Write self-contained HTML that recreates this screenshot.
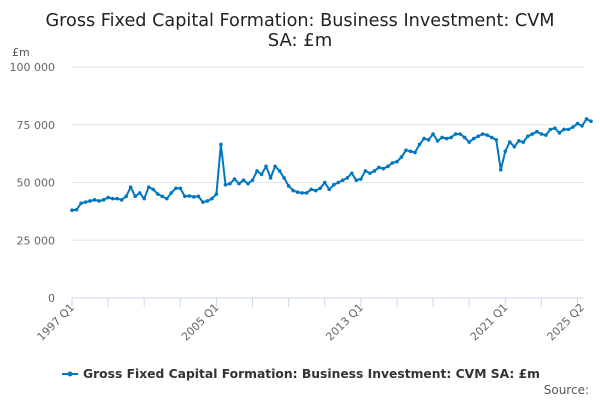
<!DOCTYPE html>
<html><head><meta charset="utf-8"><style>
body{margin:0;background:#fff;font-family:"DejaVu Sans","Liberation Sans",sans-serif;}
#wrap{position:relative;width:600px;height:400px;overflow:hidden;}
</style></head><body>
<div id="wrap">
<svg id="svg" width="600" height="400" style="font-family:'DejaVu Sans','Liberation Sans',sans-serif"></svg>
</div>
<script>
const categories=[];
for(let y=1997;y<=2025;y++)for(let q=1;q<=4;q++){if(y===2025&&q>2)break;categories.push(y+' Q'+q);}
const values=[38,38.2,41,41.5, 42,42.5,42,42.5, 43.5,43,43,42.5, 44,48,44,45.5, 43,48,47,45,
44,43,45.5,47.5, 47.5,44,44.2,43.8, 44,41.5,42,43, 45,66.5,49,49.5, 51.5,49.5,51,49.5,
51,55,53.5,57, 52,57,55,52, 48.5,46.5,45.8,45.5, 45.5,47,46.5,47.5, 50,47,49,50,
51,52,54,51, 51.5,55,54,55, 56.5,56,57,58.5, 59,61,64,63.5, 63,66.5,69,68.5,
71,68,69.5,69, 69.5,71,71,69.5, 67.5,69,70,71, 70.5,69.5,68.5,55.5, 63.5,67.5,65.5,68,
67.5,70,71,72, 71,70.5,73,73.5, 71.5,73,73,74, 75.5,74.5,77.5,76.5].map(v=>v*1000);
const yTicks=[0,25000,50000,75000,100000];
const yTickLabels=['0','25 000','50 000','75 000','100 000'];
const xTickLabels=['1997 Q1','2005 Q1','2013 Q1','2021 Q1','2025 Q2'];

const NS='http://www.w3.org/2000/svg';
const svg=document.getElementById('svg');
const X0=72,X1=582,Y0=298,Y1=67;
const xs=i=>X0+(X1-X0)*i/(categories.length-1);
const ys=v=>Y0-(Y0-Y1)*v/100000;
function mk(t,a,txt){const e=document.createElementNS(NS,t);for(const k in a)e.setAttribute(k,a[k]);if(txt!==undefined)e.textContent=txt;svg.appendChild(e);return e;}

let e=mk('text',{x:300,y:26,'text-anchor':'middle','font-size':18,fill:'#222',textLength:509,lengthAdjust:'spacingAndGlyphs'},'Gross Fixed Capital Formation: Business Investment: CVM');


e=mk('text',{x:300,y:46,'text-anchor':'middle','font-size':18,fill:'#222'},'SA: £m');


e=mk('text',{x:12,y:56,'font-size':11,fill:'#555'},'£m');



yTicks.forEach((t,i)=>{
  const y=ys(t);
  if(t!==0){
    const l=mk('line',{x1:X0,x2:X1+2,y1:y,y2:y,stroke:'#e6e6e6','stroke-width':1});
    
    
  }
  const tx=mk('text',{x:55,y:y+4,'text-anchor':'end','font-size':11,fill:'#666'},yTickLabels[i]);
  
  
});
e=mk('line',{x1:X0,x2:X1+2,y1:Y0,y2:Y0,stroke:'#ccd6eb','stroke-width':1});


for(let i=0;i<categories.length;i+=8){
  const t=mk('line',{x1:xs(i),x2:xs(i),y1:Y0,y2:Y0+9,stroke:'#ccd6eb'});
  
  
}
const ticksIdx=xTickLabels.map(l=>categories.indexOf(l));
ticksIdx.forEach((idx,k)=>{
  const x=xs(idx);
  const t=mk('text',{x:x+3,y:Y0+10,'text-anchor':'end','font-size':11,fill:'#666',transform:`rotate(-45 ${x+3} ${Y0+10})`},xTickLabels[k]);
  
  
});
const pts=values.map((v,i)=>xs(i).toFixed(1)+','+ys(v).toFixed(1)).join(' ');
e=mk('polyline',{points:pts,fill:'none',stroke:'#0077bf','stroke-width':2,'stroke-linejoin':'round'});


values.forEach((v,i)=>{
  const c=mk('circle',{cx:xs(i),cy:ys(v),r:1.8,fill:'#0077bf'});
  
  
});
e=mk('line',{x1:62,x2:78,y1:374,y2:374,stroke:'#0077bf','stroke-width':2});


e=mk('circle',{cx:70,cy:374,r:2.5,fill:'#0077bf'});


e=mk('text',{x:83,y:378,'font-size':12,'font-weight':'bold',fill:'#333',textLength:457,lengthAdjust:'spacingAndGlyphs'},'Gross Fixed Capital Formation: Business Investment: CVM SA: £m');


e=mk('text',{x:589,y:394,'text-anchor':'end','font-size':12,fill:'#555'},'Source:');


</script>
</body></html>
